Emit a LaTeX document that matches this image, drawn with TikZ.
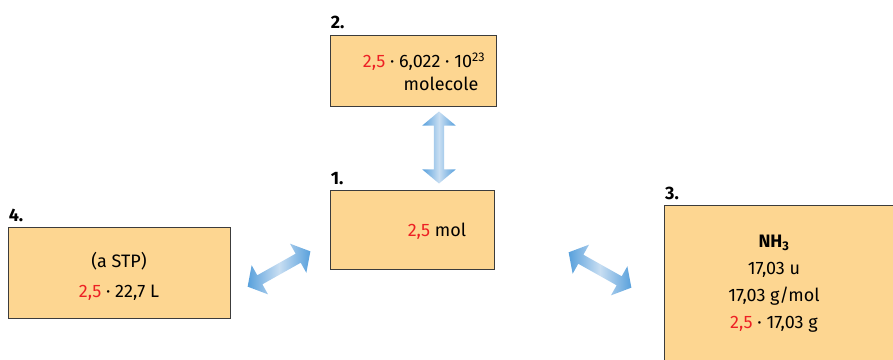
\documentclass[tikz,border=0pt]{standalone}
\usepackage{fontspec}
\setmainfont{Fira Sans}
\usetikzlibrary{shapes.arrows,positioning}
\definecolor{rosso}{RGB}{237,32,36}
\definecolor{arancio}{RGB}{253,214,145}
\definecolor{bordo}{RGB}{60,60,60}
\definecolor{blu}{RGB}{88,160,220}
\definecolor{celeste}{RGB}{200,222,242}
\newcommand{\due}{\textcolor{rosso}{2,5}}
\tikzset{
	casella/.style={draw=bordo, fill=arancio, line width=0.8pt, inner sep=0},
	testo/.style={align=center, inner sep=0},
	numero/.style={font=\bfseries\fontsize{18}{18}\selectfont, inner sep=0, anchor=south west},
	freccia/.style={double arrow, double arrow head extend=11.5pt, double arrow tip angle=100, text height=0pt, text depth=0pt, inner xsep=0pt, inner ysep=5pt, minimum height=72pt, left color=blu, right color=blu, middle color=celeste, draw=none},
}
\begin{document}
\begin{tikzpicture}[x=1pt,y=-1pt,font=\fontsize{18}{24}\selectfont]
	\useasboundingbox (0,0) rectangle (893,359);
	\node[casella, minimum width=166pt, minimum height=71pt] (b2) at (413,70.5) {};
	\node[casella, minimum width=164pt, minimum height=79pt] (b1) at (412,229.5) {};
	\node[casella, minimum width=222pt, minimum height=91pt] (b4) at (119,272.5) {};
	\node[casella, minimum width=240pt, minimum height=160pt, anchor=north west] (b3) at (664,205) {};
	% testi
	\node[testo] (t2) at (424,72) {\due{} · 6,022 · 10\textsuperscript{23}\\[-1pt]\hspace*{34pt}molecole};
	\node[testo] (t1) at (437,231) {\due{} mol};
	\node[testo] (t4) at (119,276) {(a STP)\\[6pt]\due{} · 22,7 L};
	\node[testo] (t3) at (774,284) {\textbf{NH\textsubscript{3}}\\[3pt]17,03 u\\[3pt]17,03 g/mol\\[3pt]\due{} · 17,03 g};
	% numeri
	\node[numero, above right=6pt and 1pt of b2.north west] (n2) {2.};
	\node[numero, above right=5pt and 1pt of b1.north west] (n1) {1.};
	\node[numero, above right=5pt and 1pt of b4.north west] (n4) {4.};
	\node[numero, above right=5pt and 1pt of b3.north west] (n3) {3.};
	% frecce
	\coordinate (a1) at (439,112);
	\coordinate (a2) at (439,183);
	\coordinate (s1) at (247,287);
	\coordinate (s2) at (311,251);
	\coordinate (d1) at (568,252);
	\coordinate (d2) at (632,288);
	\path (a1) -- (a2) node[freccia, midway, sloped] (f21) {};
	\path (s1) -- (s2) node[freccia, midway, sloped] (f14) {};
	\path (d1) -- (d2) node[freccia, midway, sloped] (f13) {};
\end{tikzpicture}
\end{document}
